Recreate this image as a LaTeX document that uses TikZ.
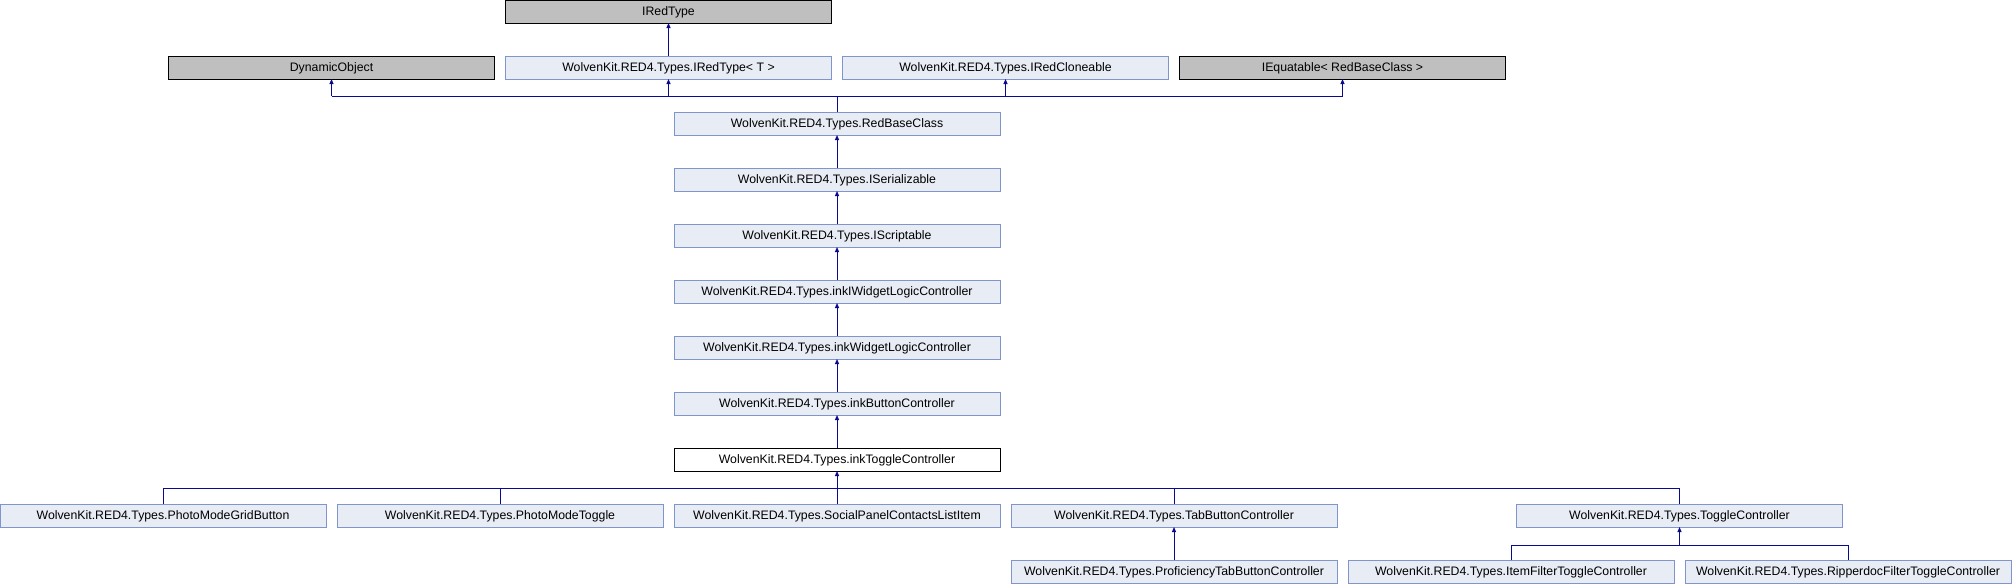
\documentclass[tikz,border=0pt]{standalone}
\usepackage{fontspec}
\setmainfont{Liberation Sans}
\usetikzlibrary{arrows.meta,positioning,calc}
\definecolor{clsfill}{HTML}{E8ECF4}
\definecolor{clsdraw}{HTML}{7F95CC}
\definecolor{extfill}{HTML}{BFBFBF}
\definecolor{edge}{HTML}{0A0A91}

\begin{document}
\begin{tikzpicture}[
  x=1pt, y=1pt,
  node distance=33pt and 11pt,
  every node/.style={font=\fontsize{12.3}{14}\selectfont, text height=8.8pt, text depth=0pt,
    inner sep=0pt, outer sep=0pt, minimum width=326pt, minimum height=23pt, line width=1pt},
  cls/.style={draw=clsdraw, fill=clsfill},
  ext/.style={draw=black, fill=extfill},
  cur/.style={draw=black, fill=white},
  link/.style={draw=edge, line width=1pt},
  inh/.style={link, -{Triangle[length=5pt,width=4pt]}}
]
\useasboundingbox (0,0) rectangle (2012,-584);

\node[cls] (rbc) at (837,-123.5) {WolvenKit.RED4.Types.RedBaseClass};
\node[cls, below=of rbc] (iser) {WolvenKit.RED4.Types.ISerializable};
\node[cls, below=of iser] (iscr) {WolvenKit.RED4.Types.IScriptable};
\node[cls, below=of iscr] (iiwlc) {WolvenKit.RED4.Types.inkIWidgetLogicController};
\node[cls, below=of iiwlc] (iwlc) {WolvenKit.RED4.Types.inkWidgetLogicController};
\node[cls, below=of iwlc] (ibtn) {WolvenKit.RED4.Types.inkButtonController};
\node[cur, below=of ibtn] (itog) {WolvenKit.RED4.Types.inkToggleController};

% base classes
\node[cls] (irtt) at ($(rbc)+(-168.5,56)$) {WolvenKit.RED4.Types.IRedType< T >};
\node[ext, left=of irtt] (dyn) {DynamicObject};
\node[cls, right=of irtt] (iclone) {WolvenKit.RED4.Types.IRedCloneable};
\node[ext, right=of iclone] (iequ) {IEquatable< RedBaseClass >};
\node[ext, above=of irtt] (irt) {IRedType};

% derived classes
\node[cls, below=of itog] (social) {WolvenKit.RED4.Types.SocialPanelContactsListItem};
\node[cls, left=of social] (pmtog) {WolvenKit.RED4.Types.PhotoModeToggle};
\node[cls, left=of pmtog] (pmgrid) {WolvenKit.RED4.Types.PhotoModeGridButton};
\node[cls, right=of social] (tabbtn) {WolvenKit.RED4.Types.TabButtonController};
\node[cls, below=of tabbtn] (proftab) {WolvenKit.RED4.Types.ProficiencyTabButtonController};
\node[cls, right=of proftab] (itemflt) {WolvenKit.RED4.Types.ItemFilterToggleController};
\node[cls, right=of itemflt] (ripflt) {WolvenKit.RED4.Types.RipperdocFilterToggleController};
\node[cls] (togctl) at ($(itemflt)!0.5!(ripflt)+(0,56)$) {WolvenKit.RED4.Types.ToggleController};

\coordinate (bus1) at ($(rbc.north)+(0,16)$);
\coordinate (bus2) at ($(itog.south)+(0,-17)$);
\coordinate (bus3) at ($(togctl.south)+(0,-18)$);

\draw[inh] (irtt) -- (irt);
\draw[link] (rbc) -- (bus1);
\draw[link] (dyn |- bus1) -- (iequ |- bus1);
\foreach \p in {dyn,irtt,iclone,iequ}
  \draw[inh] (\p |- bus1) -- (\p.south);
\foreach \c/\p in {iser/rbc,iscr/iser,iiwlc/iscr,iwlc/iiwlc,ibtn/iwlc,itog/ibtn,social/itog,proftab/tabbtn}
  \draw[inh] (\c) -- (\p);
\draw[link] (pmgrid |- bus2) -- (togctl |- bus2);
\foreach \c in {pmgrid,pmtog,tabbtn,togctl}
  \draw[link] (\c.north) -- (\c |- bus2);
\draw[inh] (bus3) -- (togctl.south);
\draw[link] (itemflt |- bus3) -- (ripflt |- bus3);
\foreach \c in {itemflt,ripflt}
  \draw[link] (\c.north) -- (\c |- bus3);
\end{tikzpicture}
\end{document}
